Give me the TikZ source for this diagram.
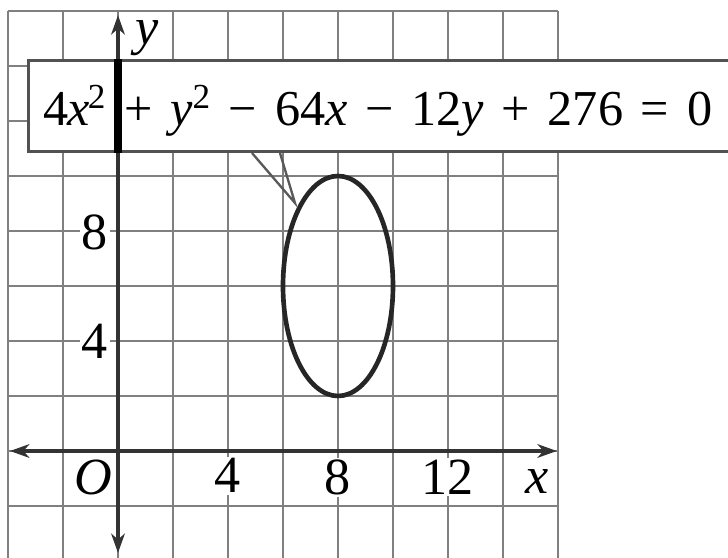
\documentclass[tikz,border=0pt]{standalone}
\usepackage{fontspec}
\setmainfont{Liberation Serif}
\usetikzlibrary{arrows.meta}
\tikzset{
  gridline/.style={line width=1pt, color=black!50},
  axisline/.style={line width=2pt, color=black!80, {Stealth[length=10pt,width=7pt,inset=3pt]}-{Stealth[length=10pt,width=7pt,inset=3pt]}},
  lbl/.style={fill=white, inner sep=1pt, font=\fontsize{27}{30}\selectfont},
  curve/.style={line width=2.4pt, color=black!85},
  callout/.style={fill=white, draw=black!68, line width=1.6pt},
  pointer/.style={line width=1.2pt, color=black!65}
}
\newcommand{\vx}{\textit{x}}
\newcommand{\vy}{\textit{y}}
\newcommand{\gp}{\hspace{0pt plus 1fil}}
\begin{document}
\begin{tikzpicture}[x=0.5cm,y=0.5cm]
\clip (-4.291,-3.855) rectangle (22.182,16.4);
% grid
\foreach \gx in {-4,-2,...,16} \draw[gridline] (\gx,-3.9) -- (\gx,16);
\foreach \gy in {-2,0,...,16} \draw[gridline] (-4,\gy) -- (16,\gy);
% axes
\coordinate (xl) at (-3.93,0);
\coordinate (xr) at (15.96,0);
\coordinate (yb) at (0,-3.71);
\coordinate (yt) at (0,15.85);
\draw[axisline] (xl) -- (xr);
\draw[axisline] (yb) -- (yt);
% ellipse
\draw[curve] (8,6) ellipse [x radius=2, y radius=4];
% callout
\coordinate (p1) at (4.873,10.836);
\coordinate (p2) at (5.891,10.836);
\coordinate (apex) at (6.436,9.018);
\draw[pointer] (p1) -- (apex) -- (p2);
\node[callout, minimum width=0pt, inner sep=0pt, anchor=south west,
      minimum height=1.655cm, text width=13.2cm] (box) at (-3.31,10.836) {};
\draw[line width=4.5pt, black] (box.south -| yb) -- (box.north -| yb);
\node[anchor=base west, inner sep=0pt, font=\fontsize{26}{30}\selectfont] (eq) at (-2.727,11.82)
  {\hbox to 346pt{4\kern-0.5pt\vx\kern-1pt\textsuperscript{2}\gp+\gp\vy\textsuperscript{2}\gp−\gp64\vx\gp−\gp12\vy\gp+\gp276\gp=\gp0}};
% labels
\node[lbl] (ly8) at (-0.84,7.95) {8};
\node[lbl] (ly4) at (-0.84,4) {4};
\node[lbl] (lo) at (-0.91,-0.98) {\textit{O}};
\node[lbl] (lx4) at (4,-0.9) {4};
\node[lbl] (lx8) at (8,-0.95) {8};
\node[lbl] (lx12) at (12,-0.95) {12};
\node[lbl] (lx) at (15.24,-1.1) {\vx};
\node[lbl, fill=none] (ly) at (1.05,15.0) {\vy};
\end{tikzpicture}
\end{document}
